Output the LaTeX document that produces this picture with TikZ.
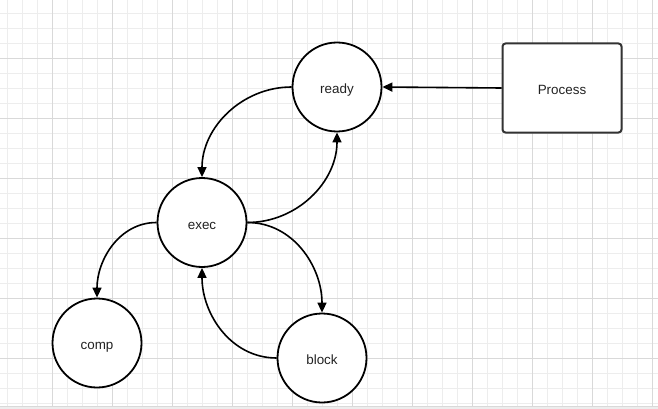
\documentclass[tikz,border=0pt]{standalone}
\usepackage{fontspec}
\setmainfont{Liberation Sans}
\usetikzlibrary{arrows.meta}
\definecolor{gminor}{HTML}{EDEDED}
\definecolor{gmajor}{HTML}{D9D9D9}
\definecolor{txt}{HTML}{222222}
\definecolor{boxline}{HTML}{333333}
\tikzset{
  state/.style={circle, draw=black, line width=1.8pt, fill=white, minimum size=89pt, inner sep=0pt,
    font=\fontsize{13.4}{15}\selectfont, text=txt, text height=13.4pt, text depth=0pt},
  procbox/.style={rectangle, rounded corners=3pt, draw=boxline, line width=2pt, fill=white,
    minimum width=119pt, minimum height=89pt, inner sep=0pt, font=\fontsize{13.4}{15}\selectfont, text=txt,
    text height=13.4pt, text depth=0pt},
  conn/.style={draw=black, line width=1.6pt, -{Triangle[length=10pt,width=9pt]}},
}
\begin{document}
\begin{tikzpicture}[x=1pt,y=-1pt]
\useasboundingbox (0,0) rectangle (658,409);
\fill[white] (0,0) rectangle (658,409);
% minor grid
\foreach \x in {7,22,...,652} \draw[gminor, line width=1pt] (\x+0.3,0) -- (\x+0.3,406);
\foreach \y in {13,28,...,403} \draw[gminor, line width=1pt] (0,\y+0.3) -- (658,\y+0.3);
% major grid
\foreach \x in {52,112,...,652} \draw[gmajor, line width=1pt] (\x+0.3,0) -- (\x+0.3,406);
\foreach \y in {58,118,...,358} \draw[gmajor, line width=1pt] (0,\y+0.3) -- (658,\y+0.3);
% bottom band
\fill[gminor] (0,406) rectangle (658,409);
\draw[gmajor, line width=1pt] (0,406) -- (658,406);

\node[state] (ready) at (337,87) {ready};
\node[state] (exec) at (202,222.5) {exec};
\node[state] (comp) at (97,343) {comp};
\node[state] (block) at (322,358) {block};
\node[procbox] (proc) at (562,88) {Process};

\draw[conn] (proc.west) -- (ready.east);
\draw[conn] (ready.west) to[out=180,in=90] (exec.north);
\draw[conn] (exec.east) to[out=0,in=-90] (ready.south);
\draw[conn] (exec.west) to[out=180,in=90] (comp.north);
\draw[conn] (exec.east) to[out=0,in=90] (block.north);
\draw[conn] (block.west) to[out=180,in=-90] (exec.south);
\end{tikzpicture}
\end{document}
